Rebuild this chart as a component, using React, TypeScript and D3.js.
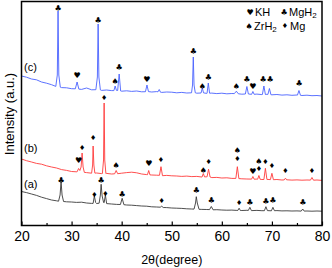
import { useRef, useEffect } from 'react';
import * as d3 from 'd3';

const W = 332;
const H = 268;
const FONT = '"Liberation Sans", Arial, sans-serif';
const SYM_FONT = '"DejaVu Sans", sans-serif';

const X_TICKS = [20, 30, 40, 50, 60, 70, 80];
const X_MINOR = [25, 35, 45, 55, 65, 75];

// baselines read at every whole degree, 20..80
const baseC = [
  149.0, 147.8, 146.0, 145.2, 143.0, 141.8, 140.3, 139.0, 137.4, 137.2, 136.3,
  136.0, 135.6, 137.0, 135.2, 135.4, 134.6, 135.0, 134.4, 134.6, 133.8,
  134.2, 133.6, 134.0, 133.2, 133.5, 133.0, 133.4, 132.6, 133.0, 132.8,
  132.2, 132.6, 132.0, 132.4, 131.8, 132.2, 131.6, 131.9, 131.4, 131.8,
  131.2, 131.5, 131.3, 130.8, 131.2, 130.6, 130.9, 130.4, 130.7, 130.2,
  130.5, 129.9, 130.2, 129.7, 130.0, 129.5, 129.8, 129.3, 129.5, 129.0,
];
const baseB = [
  66.0, 64.3, 63.0, 61.6, 60.8, 59.2, 58.0, 57.0, 55.4, 54.6, 53.5,
  53.2, 52.6, 52.4, 51.8, 52.0, 51.4, 51.6, 51.0, 51.3, 51.8,
  52.4, 52.8, 52.2, 51.0, 50.4, 50.0, 49.8, 49.3, 49.6, 49.2,
  49.0, 48.6, 48.9, 48.4, 48.6, 48.0, 48.2, 47.4, 47.6, 47.0,
  47.2, 46.6, 46.4, 46.2, 46.0, 45.8, 45.9, 45.5, 45.7, 45.3,
  45.5, 45.0, 45.2, 44.9, 45.1, 44.8, 45.0, 44.7, 45.0, 44.6,
];
const baseA = [
  33.5, 32.4, 31.0, 29.6, 27.8, 26.4, 25.0, 24.2, 23.6, 23.2, 23.0,
  22.6, 22.8, 22.0, 21.6, 21.5, 21.2, 21.4, 21.0, 20.6, 20.4,
  20.0, 19.8, 19.4, 19.0, 18.8, 18.2, 18.0, 17.6, 17.4, 17.0,
  16.8, 16.6, 16.2, 16.0, 15.8, 15.6, 15.5, 15.2, 15.3, 15.0,
  14.8, 14.9, 14.6, 14.5, 14.7, 14.4, 14.6, 14.3, 14.4, 14.2,
  14.4, 14.1, 14.2, 14.0, 14.1, 13.9, 14.0, 13.8, 14.0, 13.8,
];

// peaks as [2theta, intensity] points
const peaksC: [number, number][][] = [
  [[26.85, 138.6], [27.15, 150], [27.3, 214], [27.45, 150], [27.75, 137.8]],
  [[30.75, 136.2], [31.1, 143], [31.45, 135.9]],
  [[34.85, 135.3], [35.15, 148], [35.3, 201], [35.45, 148], [35.75, 135.1]],
  [[38.45, 134.4], [38.7, 139], [38.95, 134.6]],
  [[39.2, 134.5], [39.5, 151], [39.8, 134.0]],
  [[44.75, 133.3], [45.05, 140], [45.35, 133.4]],
  [[47.25, 133.2], [47.5, 135.5], [47.75, 132.8]],
  [[53.95, 132.2], [54.15, 140], [54.3, 168], [54.45, 140], [54.7, 132.2]],
  [[55.85, 132.0], [56.1, 137], [56.35, 132.1]],
  [[57.05, 131.7], [57.3, 142], [57.55, 131.8]],
  [[62.5, 131.4], [62.9, 133.8], [63.3, 131.2]],
  [[64.7, 131.0], [65.0, 138.5], [65.3, 131.0]],
  [[65.95, 130.7], [66.2, 133.5], [66.45, 130.7]],
  [[68.1, 130.5], [68.4, 139], [68.7, 130.5]],
  [[69.2, 130.6], [69.5, 136.5], [69.8, 130.3]],
  [[75.1, 129.9], [75.4, 134.5], [75.7, 129.7]],
];
const peaksB: [number, number][][] = [
  [[31.1, 53.2], [31.4, 56.5], [31.65, 54.5], [31.9, 58], [32.1, 72], [32.3, 58], [32.55, 52.6]],
  [[34.0, 51.8], [34.2, 60], [34.3, 79], [34.45, 60], [34.65, 51.9]],
  [[36.15, 51.5], [36.38, 65], [36.5, 122], [36.62, 65], [36.85, 51.5]],
  [[38.6, 51.2], [38.9, 54.5], [39.2, 51.3]],
  [[45.15, 50.3], [45.4, 54.5], [45.65, 50.1]],
  [[47.55, 49.7], [47.85, 58.3], [48.15, 49.3]],
  [[56.05, 48.0], [56.3, 51.5], [56.55, 48.1]],
  [[57.05, 48.2], [57.35, 55.8], [57.65, 48.0]],
  [[62.8, 46.6], [63.1, 58.3], [63.4, 46.4]],
  [[65.95, 45.9], [66.2, 48.5], [66.45, 45.8]],
  [[67.15, 45.8], [67.4, 49.5], [67.65, 45.7]],
  [[68.4, 45.5], [68.7, 56.7], [69.0, 45.6]],
  [[69.7, 45.4], [70.0, 51.7], [70.3, 45.3]],
  [[72.45, 45.1], [72.7, 46.8], [72.95, 45.1]],
  [[77.7, 44.9], [78.0, 47.5], [78.3, 44.8]],
];
const peaksA: [number, number][][] = [
  [[27.4, 23.8], [27.7, 30], [27.9, 43.3], [28.1, 30], [28.4, 23.5]],
  [[34.3, 21.6], [34.55, 29], [34.8, 22.5]],
  [[35.5, 21.8], [35.75, 30], [35.9, 40.7], [36.1, 29], [36.4, 22.5]],
  [[36.5, 22.3], [36.75, 30], [37.0, 21.4]],
  [[39.75, 20.5], [40.1, 26.7], [40.45, 20.3]],
  [[47.7, 17.8], [48.0, 18.8], [48.3, 17.5]],
  [[54.45, 15.9], [54.75, 22], [54.9, 28.3], [55.1, 22], [55.45, 15.7]],
  [[57.55, 15.4], [57.9, 18.5], [58.25, 15.2]],
  [[63.2, 14.6], [63.45, 16.8], [63.7, 14.5]],
  [[65.3, 14.6], [65.6, 17.7], [65.9, 14.4]],
  [[68.5, 14.3], [68.8, 18.3], [69.1, 14.4]],
  [[69.9, 14.2], [70.2, 17.7], [70.5, 14.3]],
  [[75.85, 13.9], [76.15, 16], [76.45, 13.9]],
];

// phase markers: [2theta, intensity, symbol]
const marksC: [number, number, string][] = [
  [27.3, 217, '♣'], [31.1, 150, '♥'], [35.3, 205, '♣'], [38.7, 144, '♠'],
  [39.5, 158, '♣'], [45.05, 146, '♥'], [54.3, 174, '♣'], [56.1, 139, '♠'],
  [57.3, 148, '♣'], [62.9, 139, '♠'], [65.0, 146, '♣'], [66.2, 139, '♥'],
  [68.25, 146, '♣'], [69.65, 146, '♣'], [75.4, 142, '♣'],
];
const marksB: [number, number, string][] = [
  [31.4, 65, '♥'], [32.1, 77, '♦'], [34.3, 87, '♦'], [36.5, 127, '♦'],
  [38.9, 60, '♠'], [45.4, 62, '♥'], [47.85, 65, '♦'], [56.3, 55, '♠'],
  [57.35, 63, '♦'], [63.1, 75, '♠'], [63.1, 66, '♦'], [66.2, 54, '♥'],
  [67.4, 64, '♠'], [67.4, 56, '♦'], [68.7, 63, '♦'], [70.0, 59, '♦'],
  [72.7, 54, '♦'], [78.0, 54, '♦'],
];
const marksA: [number, number, string][] = [
  [27.9, 45, '♣'], [34.55, 30, '♦'], [35.9, 45, '♣'], [36.75, 31, '♦'],
  [40.1, 31, '♣'], [48.0, 24, '♦'], [54.9, 35, '♣'], [57.9, 25, '♣'],
  [63.45, 22, '♦'], [65.6, 23, '♣'], [68.8, 24, '♣'], [70.2, 25, '♣'],
  [76.15, 23, '♣'],
];

const SERIES = [
  { label: '(c)', base: baseC, peaks: peaksC, marks: marksC, color: '#4a62ff', labelY: 158 },
  { label: '(b)', base: baseB, peaks: peaksB, marks: marksB, color: '#ff3a3a', labelY: 77 },
  { label: '(a)', base: baseA, peaks: peaksA, marks: marksA, color: '#3a3a3a', labelY: 41 },
];

function buildPoints(base: number[], peaks: [number, number][][]) {
  const pts: [number, number][] = [];
  base.forEach((v, i) => {
    const t = 20 + i;
    const inside = peaks.some(p => t >= p[0][0] && t <= p[p.length - 1][0]);
    if (!inside) pts.push([t, v]);
  });
  peaks.forEach(p => p.forEach(q => pts.push(q)));
  return pts.sort((a, b) => a[0] - b[0]);
}

const symSize = (s: string) => (s === '♦' ? 7 : 8);

export default function App() {
  const svgRef = useRef<SVGSVGElement>(null);

  useEffect(() => {
    const svg = d3.select(svgRef.current);
    svg.selectAll('*').remove();

    const left = 21.5, right = 322, top = 1.5, bottom = 225.5;
    const x = d3.scaleLinear().domain([20, 80]).range([left, right]);
    const y = d3.scaleLinear().domain([0, 224]).range([225, 1]);

    const line = d3.line<[number, number]>().x(d => x(d[0])).y(d => y(d[1]));

    SERIES.forEach(s => {
      svg.append('path')
        .attr('d', line(buildPoints(s.base, s.peaks)))
        .attr('fill', 'none').attr('stroke', s.color)
        .attr('stroke-width', 0.9).attr('stroke-linejoin', 'round');

      s.marks.forEach(m => {
        svg.append('text')
          .attr('x', x(m[0])).attr('y', y(m[1])).attr('dy', '0.35em')
          .attr('text-anchor', 'middle').attr('font-family', SYM_FONT)
          .attr('font-size', symSize(m[2])).attr('fill', '#000').text(m[2]);
      });

      svg.append('text')
        .attr('x', x(20.5)).attr('y', y(s.labelY)).attr('dy', '0.35em')
        .attr('font-family', FONT).attr('font-size', 11).text(s.label);
    });

    // frame
    svg.append('rect')
      .attr('x', left).attr('y', top).attr('width', right - left).attr('height', bottom - top)
      .attr('fill', 'none').attr('stroke', '#000').attr('stroke-width', 1.5);

    const axis = svg.append('g').attr('transform', `translate(0,${bottom})`)
      .call(d3.axisBottom(x).tickValues(X_TICKS).tickSize(-4).tickPadding(6).tickFormat(d3.format('d')));
    axis.select('.domain').remove();
    axis.selectAll('line').attr('stroke-width', 1.2);
    axis.selectAll('text').attr('font-family', FONT).attr('font-size', 14).attr('fill', '#000');

    const minor = svg.append('g').attr('transform', `translate(0,${bottom})`)
      .call(d3.axisBottom(x).tickValues(X_MINOR).tickSize(-2.5).tickFormat(() => ''));
    minor.select('.domain').remove();
    minor.selectAll('line').attr('stroke-width', 1.2);

    svg.append('text')
      .attr('x', (left + right) / 2).attr('y', 264)
      .attr('text-anchor', 'middle').attr('font-family', FONT).attr('font-size', 12.5)
      .text('2θ(degree)');

    svg.append('text')
      .attr('transform', `translate(14,114) rotate(-90)`)
      .attr('text-anchor', 'middle').attr('font-family', FONT).attr('font-size', 13)
      .text('Intensity (a.u.)');

    // legend
    const leg = svg.append('g').attr('font-family', FONT).attr('font-size', 11);
    const items = [
      { sym: '♥', x: 250, y: 12, name: 'KH', sub: '' },
      { sym: '♣', x: 284, y: 12, name: 'MgH', sub: '2' },
      { sym: '♠', x: 249, y: 26, name: 'ZrH', sub: '2' },
      { sym: '♦', x: 285, y: 26, name: 'Mg', sub: '' },
    ];
    items.forEach(it => {
      leg.append('text').attr('x', it.x).attr('y', it.y).attr('dy', '0.35em')
        .attr('text-anchor', 'middle').attr('font-family', SYM_FONT)
        .attr('font-size', symSize(it.sym)).text(it.sym);
      const t = leg.append('text').attr('x', it.x + 5).attr('y', it.y).attr('dy', '0.36em');
      t.append('tspan').text(it.name);
      if (it.sub) t.append('tspan').attr('font-size', 8).attr('dy', '0.3em').text(it.sub);
    });
  }, []);

  return (
    <svg ref={svgRef} width={W} height={H}
      style={{ position: 'absolute', left: 0, top: 0, background: '#fff' }} />
  );
}
